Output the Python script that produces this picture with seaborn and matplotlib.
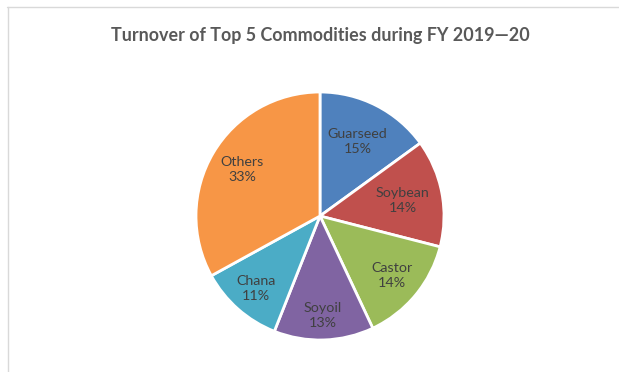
import numpy as np
import matplotlib
matplotlib.use("Agg")
import matplotlib.pyplot as plt
from matplotlib.lines import Line2D
import seaborn as sns

# Share of exchange turnover, FY 2019-20 (percent)
commodities = ["Guarseed", "Soybean", "Castor", "Soyoil", "Chana", "Others"]
shares = [15, 14, 14, 13, 11, 33]
slice_colors = ["#4F81BD", "#C0504D", "#9BBB59", "#8064A2", "#4BACC6", "#F79646"]
title = "Turnover of Top 5 Commodities during FY 2019\u201420"

# radial placement of each inside label, as a fraction of the radius
label_radius = [0.67, 0.68, 0.75, 0.80, 0.78, 0.73]

sns.set_theme(style="white")
plt.rcParams["font.family"] = ["Lato", "DejaVu Sans"]

W, H = 619, 372
fig = plt.figure(figsize=(W / 100, H / 100), dpi=100)
fig.patch.set_facecolor("white")

# pie centre ~ (320, 216) px, radius ~124 px
cx, cy, r = 320, 216, 124
ax = fig.add_axes([(cx - r) / W, 1 - (cy + r) / H, 2 * r / W, 2 * r / H])

palette = sns.color_palette(slice_colors)
wedges, _ = ax.pie(
    shares,
    colors=palette,
    startangle=90,
    counterclock=False,
    radius=1.0,
    wedgeprops=dict(edgecolor="white", linewidth=2.0),
)
ax.set_xlim(-1, 1)
ax.set_ylim(-1, 1)
ax.set_aspect("equal")
ax.axis("off")

for w, name, val, lr in zip(wedges, commodities, shares, label_radius):
    ang = np.deg2rad((w.theta1 + w.theta2) / 2)
    x, y = lr * np.cos(ang), lr * np.sin(ang)
    ax.text(x, y, f"{name}\n{val}%", ha="center", va="center",
            fontsize=10.3, color="#404040", linespacing=1.3)

fig.text(cx / W, 1 - 36 / H, title, ha="center", va="center",
         fontsize=12.9, fontweight="bold", color="#595959")

# thin frame lines along the top and left edges
fig.add_artist(Line2D([7 / W, 1], [1 - 6.5 / H, 1 - 6.5 / H],
                      transform=fig.transFigure, color="#D9D9D9", lw=1.0))
fig.add_artist(Line2D([7.5 / W, 7.5 / W], [0, 1 - 6.5 / H],
                      transform=fig.transFigure, color="#D9D9D9", lw=1.0))

fig.savefig("out.png", dpi=100, facecolor="white")
